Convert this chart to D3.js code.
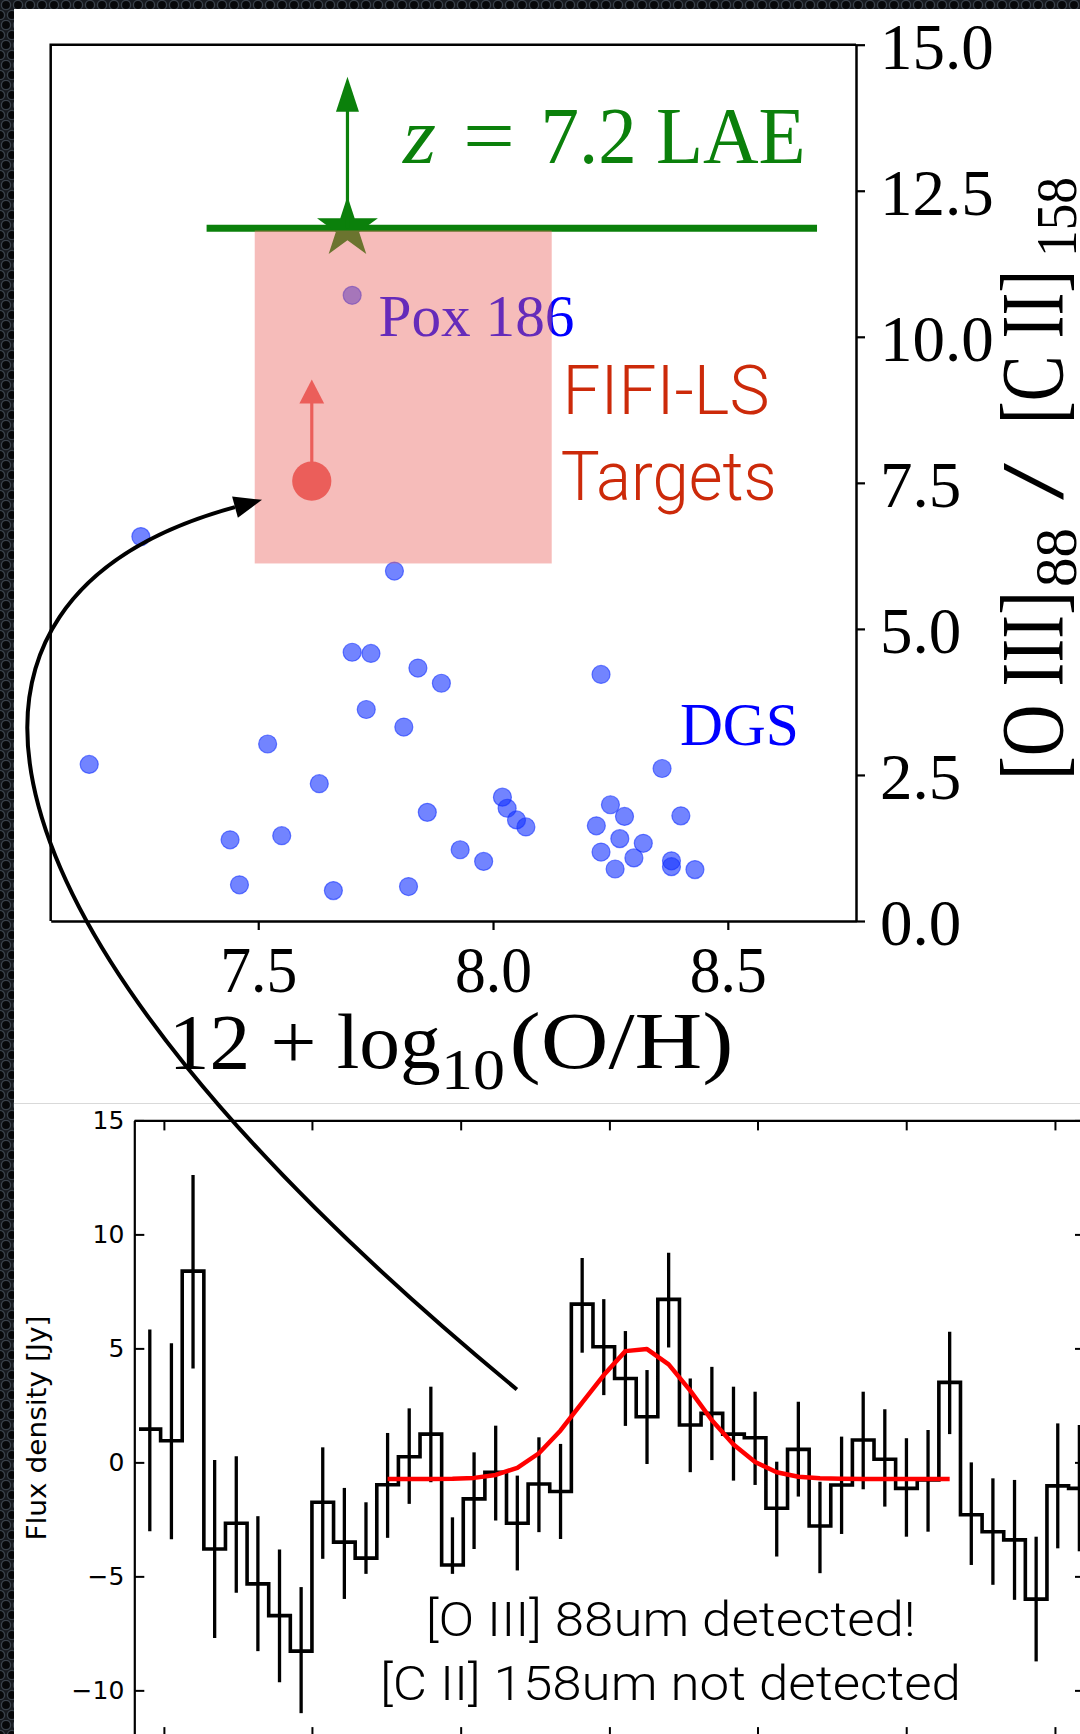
<!DOCTYPE html>
<html>
<head>
<meta charset="utf-8">
<script src="https://cdn.jsdelivr.net/npm/d3@7"></script>
<style>
  html, body { margin: 0; padding: 0; background: #111; }
  svg { display: block; }
</style>
</head>
<body>
<svg id="fig" width="1080" height="1734"></svg>
<script>
// ---------------- data: line ratio vs metallicity ----------------
const dgsMetallicity = [7.25, 7.79, 7.70, 7.74, 7.84, 7.89, 8.23, 7.73, 7.81, 7.52,
                        7.14, 8.36, 7.63, 8.02, 8.03, 8.05, 8.07, 8.25, 8.28, 8.40,
                        7.86, 8.22, 8.27, 8.32, 8.23, 8.30, 8.38, 8.38, 8.26, 8.43,
                        7.44, 7.55, 7.93, 7.98, 7.46, 7.66, 7.82];
const dgsRatio = [6.58, 5.99, 4.60, 4.58, 4.33, 4.07, 4.22, 3.62, 3.32, 3.03,
                  2.68, 2.61, 2.35, 2.12, 1.93, 1.73, 1.61, 1.99, 1.79, 1.80,
                  1.86, 1.63, 1.41, 1.33, 1.18, 1.08, 1.03, 0.93, 0.89, 0.88,
                  1.39, 1.46, 1.22, 1.02, 0.62, 0.52, 0.59];
const poxMetallicity = 7.70;
const poxRatio = 10.71;
const laeMetallicity = 7.69;
const laeRatio = 11.86;             // lower limit
const laeMetallicityRange = [7.39, 8.69];
const laeLimitArrowTo = 14.45;
const fifiMetallicity = 7.614;
const fifiRatio = 7.53;             // lower limit
const fifiLimitArrowTo = 9.27;
const targetBoxMetallicity = [7.4925, 8.125];
const targetBoxRatio = [6.12, 11.82];
const metallicityTicks = [7.5, 8.0, 8.5];
const ratioTicks = [0, 2.5, 5, 7.5, 10, 12.5, 15];

// ---------------- data: spectrum ----------------
const flux = [1.46, 0.95, 8.39, -3.80, -2.67, -5.33, -6.72, -8.28, -1.75, -3.50,
              -4.20, -0.98, 0.25, 1.24, -4.50, -1.60, -0.43, -2.67, -0.95, -1.28,
              6.94, 5.07, 3.68, 2.00, 7.15, 1.64, 2.15, 1.24, 1.08, -2.01,
              0.57, -2.79, -0.99, 0.98, 0.14, -1.14, -0.77, 3.51, -2.30, -3.04,
              -3.40, -6.00, -1.03, -1.14];
const fluxErrLow = [-3.02, -3.37, 4.12, -7.70, -5.72, -8.28, -9.64, -11.0, -4.23, -5.99,
                    -4.89, -3.31, -1.82, -0.87, -4.89, -3.80, -2.55, -4.74, -3.06, -3.36,
                    4.81, 2.95, 1.60, -0.07, 5.04, -0.43, 0.10, -0.80, -0.99, -4.13,
                    -1.50, -4.86, -3.14, -1.18, -1.94, -3.26, -3.04, 1.24, -4.50, -5.37,
                    -6.03, -8.73, -3.77, -3.90];
const fluxErrHigh = [5.83, 5.22, 12.6, 0.10, 0.27, -2.36, -3.82, -5.47, 0.66, -1.12,
                     -1.75, 1.29, 2.37, 3.32, -2.41, 0.44, 1.61, -0.58, 1.10, 0.81,
                     8.97, 7.16, 5.76, 4.05, 9.19, 3.68, 4.19, 3.32, 3.10, 0.03,
                     2.66, -0.85, 1.13, 3.10, 2.33, 1.06, 1.42, 5.73, 0.00, -0.70,
                     -0.77, -3.26, 1.71, 1.64];
const fitChannel = [11.5, 12.5, 13.5, 14.5, 15.5, 16.5, 17.5, 18.5, 19.5, 20.5,
                    21.5, 22.5, 23.5, 24.5, 25.5, 26.5, 27.5, 28.5, 29.5, 30.5,
                    31.5, 32.5, 33.5, 34.5, 35.5, 36.5, 37.5];
const fitFlux = [-0.73, -0.73, -0.73, -0.72, -0.68, -0.55, -0.24, 0.40, 1.40, 2.62,
                 3.83, 4.88, 4.97, 4.30, 3.15, 1.85, 0.78, 0.02, -0.43, -0.63,
                 -0.70, -0.72, -0.73, -0.73, -0.73, -0.73, -0.73];
const channelTicks = [1.152, 8.0, 14.88, 21.76, 28.61, 35.49, 42.37];
const fluxTicks = [-10, -5, 0, 5, 10, 15];

// ---------------- fonts / colours ----------------
const SERIF = "'Liberation Serif','Times New Roman',serif";
const LIGHT = "Roboto,'Liberation Sans',Helvetica,sans-serif";
const MPL = "'DejaVu Sans',sans-serif";
const BLUE = "#1432ff";
const GREEN = "#0b800b";
const PINK = "#eb645f";
const RED = "#eb5e5a";

const svg = d3.select("#fig");
const W = 1080, H = 1734;

// ---------------- page background ----------------
const defs = svg.append("defs");
const pat = defs.append("pattern").attr("id", "scales")
  .attr("width", 12).attr("height", 20).attr("patternUnits", "userSpaceOnUse");
pat.append("rect").attr("width", 12).attr("height", 20).attr("fill", "#171a1f");
[[6, 5], [0, 15], [12, 15]].forEach(([cx, cy]) =>
  pat.append("circle").attr("cx", cx).attr("cy", cy).attr("r", 4.6)
    .attr("fill", "#07080a").attr("stroke", "#39414a").attr("stroke-width", 1.3));
svg.append("rect").attr("width", W).attr("height", H).attr("fill", "url(#scales)");
svg.append("rect").attr("x", 14).attr("y", 9).attr("width", W - 14).attr("height", 1094).attr("fill", "#fff");
svg.append("rect").attr("x", 14).attr("y", 1104).attr("width", W - 14).attr("height", H - 1104).attr("fill", "#fff");
svg.append("line").attr("x1", 14).attr("x2", W).attr("y1", 1103.5).attr("y2", 1103.5)
  .attr("stroke", "#d9d9d9").attr("stroke-width", 1);

// =====================================================================
// Upper panel: [O III]88 / [C II]158 against 12 + log(O/H)
// =====================================================================
const xTop = d3.scaleLinear().domain([7.058, 8.773]).range([50.7, 856]);
const yTop = d3.scaleLinear().domain([0, 15]).range([921, 44.7]);
const up = svg.append("g");

// DGS galaxies
up.append("g").selectAll("circle")
  .data(dgsMetallicity.map((m, i) => [m, dgsRatio[i]]))
  .join("circle")
  .attr("cx", d => xTop(d[0])).attr("cy", d => yTop(d[1])).attr("r", 9)
  .attr("fill", BLUE).attr("fill-opacity", 0.6)
  .attr("stroke", BLUE).attr("stroke-opacity", 0.6).attr("stroke-width", 1.2);

// Pox 186
up.append("circle").attr("cx", xTop(poxMetallicity)).attr("cy", yTop(poxRatio)).attr("r", 9)
  .attr("fill", BLUE).attr("fill-opacity", 0.6)
  .attr("stroke", BLUE).attr("stroke-opacity", 0.6).attr("stroke-width", 1.2);
up.append("text").attr("x", xTop(7.756)).attr("y", yTop(10.02))
  .attr("font-family", SERIF).attr("font-size", 60).attr("fill", "#0000ff")
  .attr("textLength", 196).attr("lengthAdjust", "spacingAndGlyphs").text("Pox 186");
up.append("text").attr("x", xTop(8.398)).attr("y", yTop(3.013))
  .attr("font-family", SERIF).attr("font-size", 61).attr("fill", "#0000ff")
  .attr("textLength", 119).attr("lengthAdjust", "spacingAndGlyphs").text("DGS");

// z = 7.2 LAE lower limit
up.append("line")
  .attr("x1", xTop(laeMetallicityRange[0])).attr("x2", xTop(laeMetallicityRange[1]))
  .attr("y1", yTop(laeRatio)).attr("y2", yTop(laeRatio))
  .attr("stroke", GREEN).attr("stroke-width", 7);
up.append("path")
  .attr("transform", `translate(${xTop(laeMetallicity)},${yTop(laeRatio)})`)
  .attr("d", d3.symbol(d3.symbolStar, 1150)())
  .attr("fill", GREEN);
{
  const ax = xTop(laeMetallicity), tipY = yTop(laeLimitArrowTo), headLen = 35, headHalf = 11.5;
  up.append("line").attr("x1", ax).attr("x2", ax)
    .attr("y1", yTop(laeRatio)).attr("y2", tipY + headLen - 2)
    .attr("stroke", GREEN).attr("stroke-width", 3.2);
  up.append("path")
    .attr("d", `M${ax},${tipY}L${ax + headHalf},${tipY + headLen}L${ax - headHalf},${tipY + headLen}Z`)
    .attr("fill", GREEN);
}
{
  const g = up.append("g").attr("font-family", SERIF).attr("fill", GREEN).attr("font-size", 81);
  const base = yTop(12.98);
  g.append("text").attr("x", 403).attr("y", base).attr("font-style", "italic")
    .attr("textLength", 33).attr("lengthAdjust", "spacingAndGlyphs").text("z");
  g.append("text").attr("x", 463).attr("y", base)
    .attr("textLength", 52).attr("lengthAdjust", "spacingAndGlyphs").text("=");
  g.append("text").attr("x", 540.6).attr("y", base)
    .attr("textLength", 265).attr("lengthAdjust", "spacingAndGlyphs").text("7.2 LAE");
}

// FIFI-LS target region (translucent, drawn over the points beneath it)
up.append("rect")
  .attr("x", xTop(targetBoxMetallicity[0])).attr("y", yTop(targetBoxRatio[1]))
  .attr("width", xTop(targetBoxMetallicity[1]) - xTop(targetBoxMetallicity[0]))
  .attr("height", yTop(targetBoxRatio[0]) - yTop(targetBoxRatio[1]))
  .attr("fill", PINK).attr("fill-opacity", 0.43);

// FIFI-LS detection with lower limit arrow
{
  const ax = xTop(fifiMetallicity), tipY = yTop(fifiLimitArrowTo), headLen = 24, headHalf = 12.4;
  up.append("line").attr("x1", ax).attr("x2", ax)
    .attr("y1", yTop(fifiRatio)).attr("y2", tipY + headLen - 2)
    .attr("stroke", RED).attr("stroke-width", 3.2);
  up.append("path")
    .attr("d", `M${ax},${tipY}L${ax + headHalf},${tipY + headLen}L${ax - headHalf},${tipY + headLen}Z`)
    .attr("fill", RED);
  up.append("circle").attr("cx", ax).attr("cy", yTop(fifiRatio)).attr("r", 19.6).attr("fill", RED);
}
up.append("text").attr("x", xTop(8.148)).attr("y", yTop(8.68))
  .attr("font-family", LIGHT).attr("font-weight", 300).attr("font-size", 69).attr("fill", "#cc2a0a")
  .attr("textLength", 207).attr("lengthAdjust", "spacingAndGlyphs").text("FIFI-LS");
up.append("text").attr("x", xTop(8.144)).attr("y", yTop(7.21))
  .attr("font-family", LIGHT).attr("font-weight", 300).attr("font-size", 69).attr("fill", "#cc2a0a")
  .attr("textLength", 216).attr("lengthAdjust", "spacingAndGlyphs").text("Targets");

// frame: left and top spines
up.append("path")
  .attr("d", `M${xTop.range()[0]},${yTop.range()[0]}V${yTop.range()[1]}H${xTop.range()[1]}`)
  .attr("fill", "none").attr("stroke", "#000").attr("stroke-width", 2.5);

// right-hand ratio axis
const yAxTop = up.append("g").attr("transform", `translate(${xTop.range()[1]},0)`)
  .call(d3.axisRight(yTop).tickValues(ratioTicks).tickSize(9).tickSizeOuter(0)
        .tickPadding(15).tickFormat(d3.format(".1f")));
yAxTop.attr("font-family", SERIF).attr("font-size", 65);
yAxTop.select(".domain").attr("stroke-width", 2.5);
yAxTop.selectAll(".tick line").attr("stroke-width", 2.2);
yAxTop.selectAll(".tick text").attr("dy", "0.36em").attr("fill", "#000");

// bottom metallicity axis
const xAxTop = up.append("g").attr("transform", `translate(0,${yTop.range()[0]})`)
  .call(d3.axisBottom(xTop).tickValues(metallicityTicks).tickSize(9).tickSizeOuter(0)
        .tickPadding(16).tickFormat(d3.format(".1f")));
xAxTop.attr("font-family", SERIF).attr("font-size", 65);
xAxTop.select(".domain").attr("stroke-width", 2.5);
xAxTop.selectAll(".tick line").attr("stroke-width", 2.2);
xAxTop.selectAll(".tick text").attr("fill", "#000")
  .attr("textLength", 77).attr("lengthAdjust", "spacingAndGlyphs");

// x-axis title: 12 + log10(O/H)
{
  const g = up.append("g").attr("font-family", SERIF).attr("fill", "#000");
  g.append("text").attr("x", 168.7).attr("y", 1068.3).attr("font-size", 78)
    .attr("textLength", 272).attr("lengthAdjust", "spacingAndGlyphs").text("12 + log");
  g.append("text").attr("x", 441).attr("y", 1089).attr("font-size", 56)
    .attr("textLength", 64).attr("lengthAdjust", "spacingAndGlyphs").text("10");
  g.append("text").attr("x", 509.6).attr("y", 1068.3).attr("font-size", 80)
    .attr("textLength", 224).attr("lengthAdjust", "spacingAndGlyphs").text("(O/H)");
}

// y-axis title on the right: [O III]88 / [C II]158
{
  const g = up.append("g").attr("transform", "translate(1062,780) rotate(-90)")
    .attr("font-family", SERIF).attr("fill", "#000");
  const parts = [
    { t: "[O III]", s: 0,   len: 189, size: 88, sub: false },
    { t: "88",      s: 193, len: 59,  size: 60, sub: true },
    { t: "/",       s: 280, len: 37,  size: 88, sub: false },
    { t: "[C II]",  s: 356, len: 154, size: 88, sub: false },
    { t: "158",     s: 523, len: 80,  size: 58, sub: true }
  ];
  parts.forEach(p => g.append("text").attr("x", p.s).attr("y", p.sub ? 14 : 0)
    .attr("font-size", p.size).attr("textLength", p.len)
    .attr("lengthAdjust", "spacingAndGlyphs").text(p.t));
}

// =====================================================================
// Lower panel: spectrum with Gaussian fit
// =====================================================================
const xBot = d3.scaleLinear().domain([-0.217, 43.76]).range([134.3, 1085]);
const yBot = d3.scaleLinear().domain([-12.05, 15]).range([1737.1, 1120.4]);
const low = svg.append("g");
defs.append("clipPath").attr("id", "specClip").append("rect")
  .attr("x", xBot.range()[0]).attr("y", yBot.range()[1])
  .attr("width", xBot.range()[1] - xBot.range()[0])
  .attr("height", yBot.range()[0] - yBot.range()[1]);
const plot = low.append("g").attr("clip-path", "url(#specClip)");

// error bars at channel centres
plot.append("g").selectAll("line")
  .data(flux.map((v, i) => i))
  .join("line")
  .attr("x1", i => xBot(i + 0.5)).attr("x2", i => xBot(i + 0.5))
  .attr("y1", i => yBot(fluxErrLow[i])).attr("y2", i => yBot(fluxErrHigh[i]))
  .attr("stroke", "#000").attr("stroke-width", 3.3);

// stepped spectrum
const stepPts = flux.map((v, i) => [i, v]);
stepPts.push([flux.length, flux[flux.length - 1]]);
plot.append("path")
  .attr("d", d3.line().x(d => xBot(d[0])).y(d => yBot(d[1])).curve(d3.curveStepAfter)(stepPts))
  .attr("fill", "none").attr("stroke", "#000").attr("stroke-width", 3.6)
  .attr("stroke-linejoin", "miter");

// fitted line profile
plot.append("path")
  .attr("d", d3.line().x((c, i) => xBot(c)).y((c, i) => yBot(fitFlux[i]))(fitChannel))
  .attr("fill", "none").attr("stroke", "#ff0000").attr("stroke-width", 4.5)
  .attr("stroke-linejoin", "round");

// axes (inward ticks on all four sides)
const axL = low.append("g").attr("transform", `translate(${xBot.range()[0]},0)`)
  .call(d3.axisLeft(yBot).tickValues(fluxTicks).tickSizeInner(-10).tickSizeOuter(0).tickPadding(10));
axL.attr("font-family", MPL).attr("font-size", 25);
const axR = low.append("g").attr("transform", `translate(${xBot.range()[1]},0)`)
  .call(d3.axisRight(yBot).tickValues(fluxTicks).tickSizeInner(-10).tickSizeOuter(0).tickFormat(""));
const axT = low.append("g").attr("transform", `translate(0,${yBot.range()[1]})`)
  .call(d3.axisTop(xBot).tickValues(channelTicks).tickSizeInner(-10).tickSizeOuter(0).tickFormat(""));
const axB = low.append("g").attr("transform", `translate(0,${yBot.range()[0]})`)
  .call(d3.axisBottom(xBot).tickValues(channelTicks).tickSizeInner(-10).tickSizeOuter(0).tickFormat(""));
[axL, axR, axT, axB].forEach(a => {
  a.select(".domain").attr("stroke-width", 2.2);
  a.selectAll(".tick line").attr("stroke-width", 2);
  a.selectAll(".tick text").attr("fill", "#000");
});

low.append("text").attr("transform", "translate(46,1428) rotate(-90)")
  .attr("text-anchor", "middle").attr("font-family", MPL).attr("font-size", 26)
  .attr("textLength", 225).attr("lengthAdjust", "spacingAndGlyphs").text("Flux density [Jy]");

low.append("text").attr("x", 670.8).attr("y", 1635.7).attr("text-anchor", "middle")
  .attr("font-family", LIGHT).attr("font-weight", 300).attr("font-size", 49).attr("fill", "#000")
  .attr("textLength", 490).attr("lengthAdjust", "spacingAndGlyphs").text("[O III] 88um detected!");
low.append("text").attr("x", 670.5).attr("y", 1700).attr("text-anchor", "middle")
  .attr("font-family", LIGHT).attr("font-weight", 300).attr("font-size", 49).attr("fill", "#000")
  .attr("textLength", 581).attr("lengthAdjust", "spacingAndGlyphs").text("[C II] 158um not detected");

// =====================================================================
// Curved arrow from the detected line to the target region
// =====================================================================
{
  const p0 = [xBot(17.48), yBot(3.2)];
  const tip = [xTop(7.508), yTop(7.21)];
  const headLen = 28, headHalf = 11;
  const ux = 0.965, uy = -0.263;                 // direction of travel at the tip
  const base = [tip[0] - headLen * ux, tip[1] - headLen * uy];
  const c1 = [p0[0] - 570, p0[1] - 470];
  const c2 = [base[0] - 330, base[1] + 90];
  const path = d3.path();
  path.moveTo(p0[0], p0[1]);
  path.bezierCurveTo(c1[0], c1[1], c2[0], c2[1], base[0], base[1]);
  svg.append("path").attr("d", path.toString())
    .attr("fill", "none").attr("stroke", "#000").attr("stroke-width", 4);
  svg.append("path")
    .attr("d", `M${tip[0]},${tip[1]}L${base[0] - headHalf * uy},${base[1] + headHalf * ux}` +
               `L${base[0] + headHalf * uy},${base[1] - headHalf * ux}Z`)
    .attr("fill", "#000");
}
</script>
</body>
</html>
